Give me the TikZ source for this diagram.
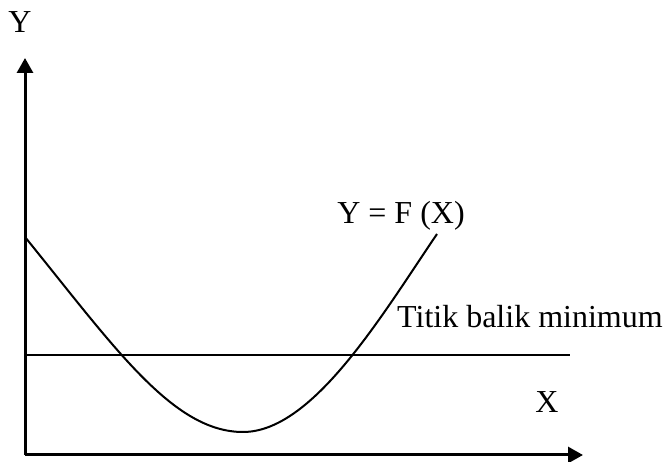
\documentclass[tikz,border=0pt]{standalone}
\usepackage{fontspec}
\setmainfont{Liberation Serif}
\usetikzlibrary{arrows.meta}

\begin{document}
\begin{tikzpicture}[x=1pt, y=-1pt,
    axis/.style={line width=3pt, -{Triangle[length=15pt, width=16pt]}},
    lbl/.style={font=\fontsize{32}{38}\selectfont, inner sep=0pt, anchor=base}]
\useasboundingbox (0,0) rectangle (670,462);
% axes
\coordinate (origin) at (25,455);
\coordinate (ytip) at (25,58);
\coordinate (xtip) at (583,455);
\draw[axis] (origin) -- (ytip);
\draw[axis] (origin) -- (xtip);
% horizontal line
\coordinate (hleft) at (25,355);
\coordinate (hright) at (570,355);
\draw[line width=2pt] (hleft) -- (hright);
% curve
\coordinate (cstart) at (25,237);
\coordinate (cmin) at (243,432);
\coordinate (cend) at (437,234);
\draw[line width=2pt] (cstart) .. controls (115,348) and (173,432) .. (cmin)
    .. controls (313,432) and (382,315) .. (cend);
% labels
\node[lbl] (ylabel) at (20,33) {Y};
\node[lbl] (xlabel) at (547,413) {X};
\node[lbl] (fxlabel) at (401,224) {Y = F (X)};
\node[lbl, anchor=base west] (minlabel) at (397,328) {Titik balik minimum};
\end{tikzpicture}
\end{document}
